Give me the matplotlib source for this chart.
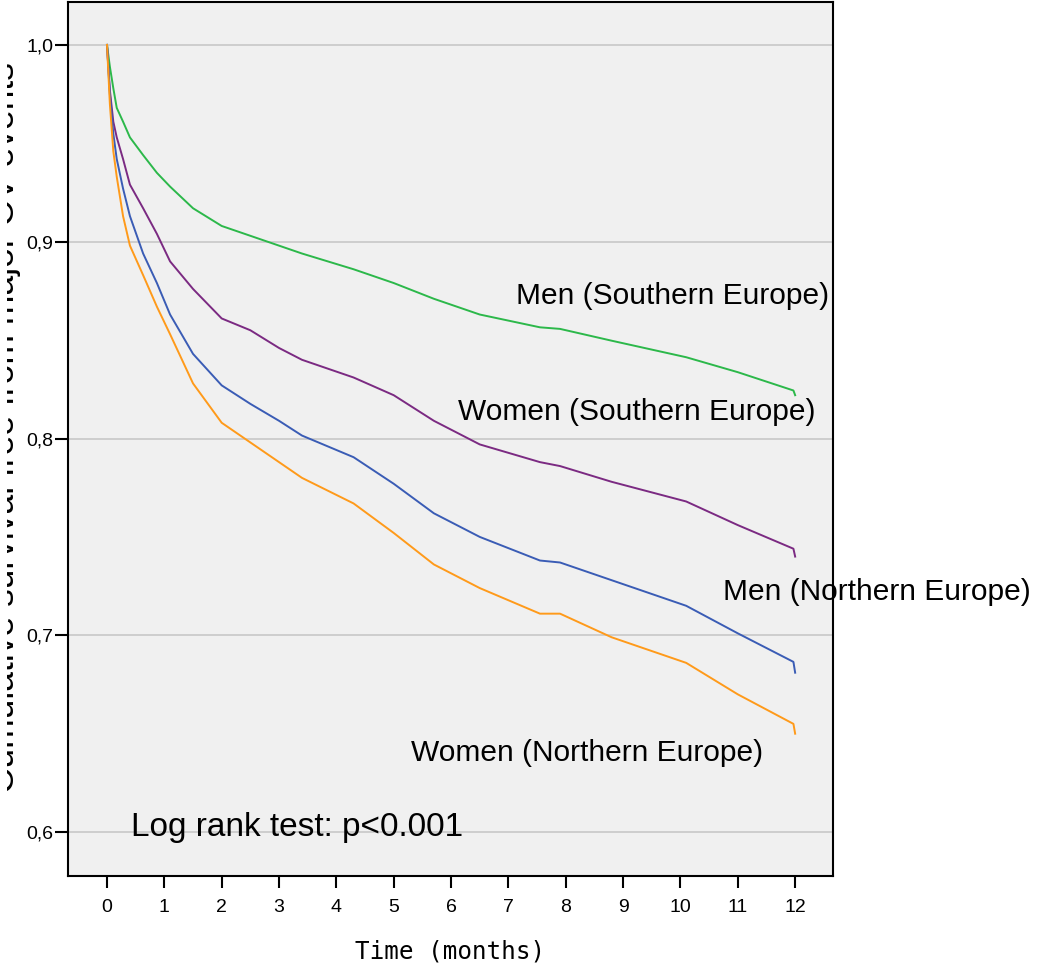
import matplotlib
matplotlib.use("Agg")
import matplotlib.pyplot as plt
from matplotlib.transforms import Bbox

# values
months = [0, 0.05, 0.11, 0.17, 0.28, 0.4, 0.63, 0.87, 1.1, 1.5, 2.0, 2.5, 3.0, 3.4,
          4.3, 5.0, 5.7, 6.5, 7.55, 7.9, 8.8, 10.1, 11.0, 11.97, 12.0]

men_south = [1.0, 0.989, 0.978, 0.968, 0.961, 0.953, 0.944, 0.935, 0.928, 0.917,
             0.908, 0.903, 0.898, 0.894, 0.886, 0.879, 0.871, 0.863, 0.8565,
             0.8557, 0.8497, 0.8413, 0.8337, 0.8244, 0.822]
women_south = [1.0, 0.977, 0.961, 0.953, 0.942, 0.929, 0.917, 0.904, 0.890, 0.876,
               0.861, 0.855, 0.846, 0.840, 0.831, 0.822, 0.809, 0.797, 0.788,
               0.786, 0.778, 0.768, 0.756, 0.744, 0.740]
men_north = [1.0, 0.975, 0.955, 0.942, 0.927, 0.913, 0.894, 0.879, 0.863, 0.843,
             0.827, 0.8176, 0.809, 0.8015, 0.7905, 0.777, 0.762, 0.750, 0.738,
             0.737, 0.728, 0.715, 0.701, 0.6865, 0.681]
women_north = [1.0, 0.970, 0.946, 0.933, 0.913, 0.898, 0.883, 0.867, 0.853, 0.828,
               0.808, 0.798, 0.788, 0.780, 0.767, 0.752, 0.736, 0.724, 0.711,
               0.711, 0.699, 0.686, 0.670, 0.655, 0.650]

group_labels = ["Men (Southern Europe)", "Women (Southern Europe)",
                "Men (Northern Europe)", "Women (Northern Europe)"]
colors = ["#2cb84a", "#7b2a82", "#3a5cb5", "#ff9a1a"]

xticks = list(range(0, 13))
yticks = [0.6, 0.7, 0.8, 0.9, 1.0]
ytick_labels = ["0,6", "0,7", "0,8", "0,9", "1,0"]

sans = "Liberation Sans"
mono = "DejaVu Sans Mono"

fig = plt.figure(figsize=(10.38, 9.65), dpi=100)
ax = fig.add_axes([68 / 1038, 1 - 876 / 965, 765 / 1038, 874 / 965])
ax.set_facecolor("#f0f0f0")

for yv in yticks:
    ax.axhline(yv, color="#c8c8c8", lw=1.2, zorder=1)

series = [men_south, women_south, men_north, women_north]
for vals, col in zip(series, colors):
    ax.plot(months, vals, color=col, lw=1.4, zorder=3)

ax.set_xlim(-0.68, 12.66)
ax.set_ylim(0.5777, 1.0218)

ax.set_xticks(xticks)
ax.set_xticklabels([str(t) for t in xticks], fontfamily=sans, fontsize=14)
ax.set_yticks(yticks)
ax.set_yticklabels(ytick_labels, fontfamily=sans, fontsize=14)
ax.tick_params(axis="y", length=9.5, width=1.5, pad=1)
ax.tick_params(axis="x", length=8.6, width=1.5, pad=8)
for sp in ax.spines.values():
    sp.set_linewidth(1.5)
    sp.set_color("black")

ax.set_xlabel("Time (months)", fontfamily=mono, fontsize=17.5, labelpad=17)

# curve annotations
ax.text(7.13, 0.8726, group_labels[0], fontfamily=sans, fontsize=21.5, va="center")
ax.text(6.12, 0.8137, group_labels[1], fontfamily=sans, fontsize=21.5, va="center")
ax.text(10.75, 0.7218, group_labels[2], fontfamily=sans, fontsize=21.5, va="center",
        clip_on=False)
ax.text(5.30, 0.6401, group_labels[3], fontfamily=sans, fontsize=21.5, va="center")
ax.text(0.42, 0.6025, "Log rank test: p<0.001", fontfamily=sans, fontsize=24,
        va="center")

# y axis title, partly cut off at the left edge as in the original
ylab = fig.text(14 / 1038, 1 - 428 / 965, "Cumulative survival free from major CV events",
                fontfamily=sans, fontsize=25.5, rotation=90, rotation_mode="anchor",
                ha="center", va="baseline")
ylab.set_clip_box(Bbox.from_extents(7, 0, 1038, 965))
ylab.set_clip_on(True)

fig.savefig("out.png", dpi=100)
